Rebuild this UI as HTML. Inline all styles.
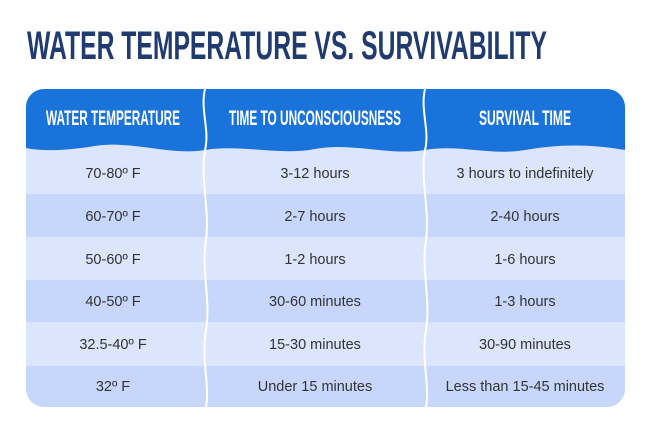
<!DOCTYPE html>
<html><head><meta charset="utf-8"><style>
html,body{margin:0;padding:0;background:#fff;width:649px;height:428px;overflow:hidden}
</style></head><body>
<svg width="649" height="428" viewBox="0 0 649 428" xmlns="http://www.w3.org/2000/svg" font-family="Liberation Sans, sans-serif">
<text x="27" y="59" font-size="40" font-weight="bold" fill="#1f3b70" textLength="520" lengthAdjust="spacingAndGlyphs">WATER TEMPERATURE VS. SURVIVABILITY</text>
<defs><clipPath id="c"><rect x="26" y="89" width="599" height="318" rx="18"/></clipPath></defs>
<g clip-path="url(#c)">
<rect x="26" y="89" width="599" height="318" fill="#dbe5fc"/>
<rect x="26" y="194" width="599" height="43" fill="#c7d7fb"/>
<rect x="26" y="280" width="599" height="42" fill="#c7d7fb"/>
<rect x="26" y="366" width="599" height="41" fill="#c7d7fb"/>
<path d="M26 89 H625 V150 C590 144 560 144 525 150 C490 156 460 144 425 150 C390 156 350 142 315 149 C280 156 240 144 205 150 C170 156 130 140 95 146 C70 150 45 152 26 148 Z" fill="#1a73da"/>
<path d="M205 89 C200 110 210 130 205 150 C200 180 210 210 206 240 C201 270 211 300 206 330 C201 360 210 385 206 407" stroke="#fff" stroke-width="2" fill="none"/>
<path d="M425 89 C420 110 430 130 425 150 C420 180 430 210 426 240 C421 270 431 300 426 330 C421 360 430 385 426 407" stroke="#fff" stroke-width="2" fill="none"/>
</g>
<g font-size="21" font-weight="bold" fill="#fff" text-anchor="middle">
<text x="113" y="125" textLength="134" lengthAdjust="spacingAndGlyphs">WATER TEMPERATURE</text>
<text x="315" y="125" textLength="172" lengthAdjust="spacingAndGlyphs">TIME TO UNCONSCIOUSNESS</text>
<text x="525" y="125" textLength="92" lengthAdjust="spacingAndGlyphs">SURVIVAL TIME</text>
</g>
<g font-size="14.5" fill="#333" text-anchor="middle">
<text x="113" y="178">70-80º F</text><text x="315" y="178">3-12 hours</text><text x="525" y="178">3 hours to indefinitely</text>
<text x="113" y="221">60-70º F</text><text x="315" y="221">2-7 hours</text><text x="525" y="221">2-40 hours</text>
<text x="113" y="264">50-60º F</text><text x="315" y="264">1-2 hours</text><text x="525" y="264">1-6 hours</text>
<text x="113" y="306">40-50º F</text><text x="315" y="306">30-60 minutes</text><text x="525" y="306">1-3 hours</text>
<text x="113" y="349">32.5-40º F</text><text x="315" y="349">15-30 minutes</text><text x="525" y="349">30-90 minutes</text>
<text x="113" y="391">32º F</text><text x="315" y="391">Under 15 minutes</text><text x="525" y="391">Less than 15-45 minutes</text>
</g>
</svg>
</body></html>
